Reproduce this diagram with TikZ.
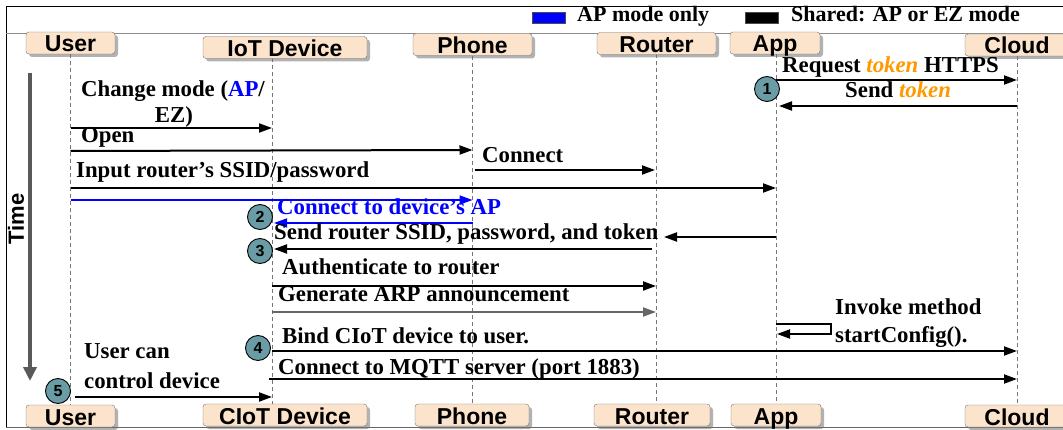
\documentclass[tikz,border=0pt]{standalone}
\usepackage{fontspec}
\setmainfont{Liberation Serif}
\setsansfont{Liberation Sans}
\usetikzlibrary{arrows.meta,shadows,calc}
\definecolor{peach}{HTML}{FCE4CC}
\definecolor{circfill}{HTML}{6A9CA6}
\definecolor{tok}{HTML}{FF9900}
\definecolor{apblue}{HTML}{0000FF}
\definecolor{lifegray}{HTML}{777777}
\begin{document}
\begin{tikzpicture}[x=1pt,y=-1pt,
  actor/.style={draw=black!55, fill=peach, rounded corners=3pt, inner sep=0pt,
    font=\sffamily\bfseries\fontsize{23}{23}\selectfont, text height=19pt, text depth=1pt,
    minimum height=22pt,
    drop shadow={shadow xshift=3pt, shadow yshift=-3pt, opacity=0.55, fill=black!55}},
  msgt/.style={font=\bfseries\fontsize{22.8}{24}\selectfont, inner sep=0pt, anchor=base west},
  msg/.style={line width=2pt, -{Triangle[length=13pt,width=9pt]}},
  bmsg/.style={line width=1.6pt, draw=apblue, -{Triangle[length=13pt,width=9pt]}},
  gmsg/.style={line width=2pt, draw=black!60, -{Triangle[length=13pt,width=9pt]}},
  life/.style={draw=lifegray, line width=0.8pt, dash pattern=on 4pt off 3pt},
  num/.style={circle, draw=black, line width=0.9pt, fill=circfill, minimum size=25pt, inner sep=0pt,
    font=\sffamily\bfseries\fontsize{16}{16}\selectfont},
  legt/.style={font=\bfseries\fontsize{22}{22}\selectfont, inner sep=0pt, anchor=base west}
]
\useasboundingbox (0,0) rectangle (1063,430);
% frame
\draw[black, line width=0.8pt] (6,427) -- (6,6) -- (1075,6);
\draw[black!60, line width=0.8pt] (6,427) -- (1075,427);
\draw[black!45, line width=0.8pt] (6,33) -- (1075,33);

% legend
\node[draw=black!70, fill=apblue, minimum width=33pt, minimum height=11pt, inner sep=0pt] (legB) at (548.5,17.5) {};
\node[legt] (legBt) at (577,22) {AP mode only};
\node[draw=black!70, fill=black, minimum width=33pt, minimum height=11pt, inner sep=0pt] (legK) at (761.5,17.5) {};
\node[legt] (legKt) at (791,22) {Shared: AP or EZ mode};

% lifeline x positions
\coordinate (uL) at (70.5,0);
\coordinate (iL) at (272,0);
\coordinate (pL) at (472.5,0);
\coordinate (rL) at (656,0);
\coordinate (aL) at (776,0);
\coordinate (cL) at (1017,0);

% lifelines
\draw[life] (uL|-0,54) -- (uL|-0,405);
\draw[life] (iL|-0,58) -- (iL|-0,404);
\draw[life] (pL|-0,56) -- (pL|-0,403);
\draw[life] (rL|-0,54) -- (rL|-0,403);
\draw[life] (aL|-0,54) -- (aL|-0,403);
\draw[life] (cL|-0,56) -- (cL|-0,405);

% top actors
\node[actor, minimum width=89pt] (uT) at (70.5,43) {User};
\node[actor, minimum width=164pt] (iT) at (285,47.5) {IoT Device};
\node[actor, minimum width=119pt] (pT) at (472.5,44.5) {Phone};
\node[actor, minimum width=119pt] (rT) at (656.5,43.5) {Router};
\node[actor, minimum width=90pt] (aT) at (775,43) {App};
\node[actor, minimum width=104pt] (cT) at (1017,45) {Cloud};

% bottom actors
\node[actor, minimum width=89pt] (uB) at (70.5,416) {User};
\node[actor, minimum width=164pt] (iB) at (285,415) {CIoT Device};
\node[actor, minimum width=114pt] (pB) at (472,415) {Phone};
\node[actor, minimum width=116pt] (rB) at (652,415) {Router};
\node[actor, minimum width=90pt] (aB) at (776,415) {App};
\node[actor, minimum width=104pt] (cB) at (1017,416) {Cloud};

% time axis
\coordinate (tS) at (30,73);
\coordinate (tE) at (30,381);
\draw[line width=3.5pt, draw=black!65, -{Triangle[length=14pt,width=13pt]}] (tS) -- (tE);
\node[rotate=90, font=\sffamily\bfseries\fontsize{22}{22}\selectfont, inner sep=0pt] (time) at (16,219) {Time};

% step 1: token
\node[msgt] (m1) at (782,73) {Request \textcolor{tok}{\textit{token}} HTTPS};
\draw[msg] (aL|-0,80) -- (cL|-0,80);
\node[msgt] (m2) at (845,98) {Send \textcolor{tok}{\textit{token}}};
\draw[msg] (cL|-0,106) -- ($(aL|-0,106)+(3,0)$);
\node[num] (n1) at (767,89) {1};

% change mode
\node[msgt, anchor=base] (m3a) at (173,97) {Change mode (\textcolor{apblue}{AP}/};
\node[msgt, anchor=base] (m3b) at (174,123) {EZ)};
\draw[msg] (uL|-0,128) -- (iL|-0,128);

% open
\node[msgt] (m4) at (81,143) {Open};
\draw[msg] (uL|-0,151) -- (pL|-0,150);

% connect
\node[msgt] (m5) at (482,163) {Connect};
\draw[msg] ($(pL|-0,170)+(2,0)$) -- ($(rL|-0,170)+(-1,0)$);

% input ssid
\node[msgt] (m6) at (76,178) {Input router’s SSID/password};
\draw[msg] (uL|-0,188) -- (aL|-0,188);

% blue AP
\draw[bmsg] (uL|-0,200) -- (pL|-0,200);
\node[msgt, text=apblue] (m7) at (277,215) {Connect to device’s AP};
\draw[bmsg] (pL|-0,223) -- ($(iL|-0,223)+(2,0)$);
\node[num] (n2) at (260,217) {2};

% send router ssid
\draw[msg] (aL|-0,237) -- ($(rL|-0,237)+(8,0)$);
\node[msgt] (m8) at (274,240) {Send router SSID, password, and token};
\draw[msg] ($(rL|-0,249)+(-4,0)$) -- ($(iL|-0,249)+(2,0)$);
\node[num] (n3) at (260,251) {3};

% authenticate
\node[msgt] (m9) at (282,275) {Authenticate to router};
\draw[msg] (iL|-0,286) -- (rL|-0,286);

% ARP
\node[msgt] (m10) at (278,302) {Generate ARP announcement};
\draw[gmsg] (iL|-0,312) -- (rL|-0,312);

% invoke method (self loop)
\node[msgt] (m11a) at (835,315) {Invoke method};
\node[msgt] (m11b) at (835,342) {startConfig().};
\coordinate (lpA) at (831,324);
\coordinate (lpB) at (831,334);
\draw[line width=2pt, -{Triangle[length=13pt,width=9pt]}] (aL|-lpA) -- (lpA) -- (lpB) -- ($(aL|-lpB)+(1,0)$);

% bind
\node[msgt] (m12) at (282,343) {Bind CIoT device to user.};
\draw[msg] (iL|-0,351) -- (cL|-0,351);
\node[num] (n4) at (258,348) {4};

% MQTT
\node[msgt] (m13) at (278,374) {Connect to MQTT server (port 1883)};
\draw[msg] ($(iL|-0,379)+(-3,0)$) -- (cL|-0,379);

% user control
\node[msgt] (m14a) at (84,359) {User can};
\node[msgt] (m14b) at (84,388) {control device};
\draw[msg] ($(uL|-0,397)+(4,0)$) -- (iL|-0,397);
\node[num] (n5) at (58,391) {5};
\end{tikzpicture}
\end{document}
